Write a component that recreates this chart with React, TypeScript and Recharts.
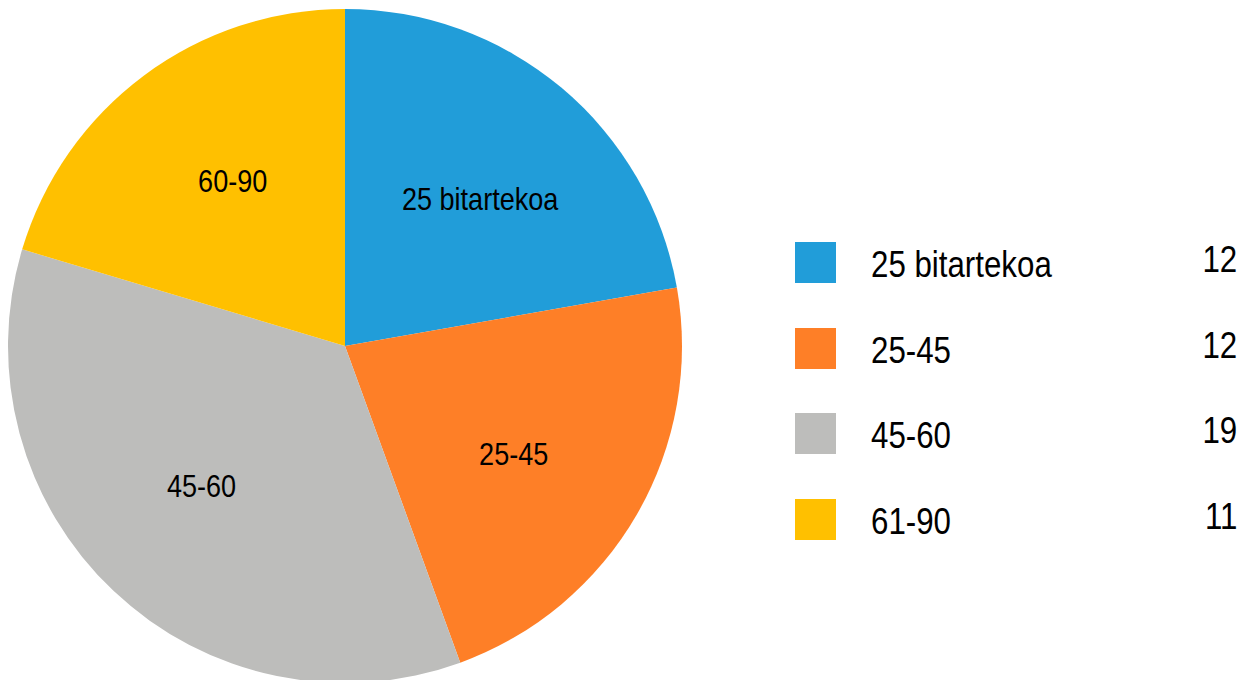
import React from 'react';
import { PieChart, Pie, Cell, Legend, PieLabelRenderProps } from 'recharts';

// data
const legendNames = ['25 bitartekoa', '25-45', '45-60', '61-90'];
const sliceLabels = ['25 bitartekoa', '25-45', '45-60', '60-90'];
const counts = [12, 12, 19, 11];
const colors = ['#219DD9', '#FE7F27', '#BDBDBB', '#FFC000'];

// no condensed Helvetica available: squeeze Liberation Sans horizontally
const FONT = '"Liberation Sans", Arial, sans-serif';
const SQUEEZE = 0.845;

const data = legendNames.map((name, i) => ({
  name,
  label: sliceLabels[i],
  value: counts[i],
}));

const RAD = Math.PI / 180;

const renderLabel = (props: PieLabelRenderProps) => {
  const { cx, cy, midAngle, index } = props;
  if (index === undefined || midAngle === undefined) return null;
  const r = 200;
  const a = midAngle - 2.5;
  const x = Number(cx) + r * Math.cos(-a * RAD);
  const y = Number(cy) + r * Math.sin(-a * RAD);
  return (
    <text
      transform={`translate(${x},${y}) scale(${SQUEEZE},1)`}
      fill="#000"
      textAnchor="middle"
      dominantBaseline="central"
      style={{ fontFamily: FONT, fontSize: 32 }}
    >
      {sliceLabels[index]}
    </text>
  );
};

const renderLegend = () => (
  <div style={{ fontFamily: FONT, width: 450 }}>
    {data.map((d, i) => (
      <div key={d.name} style={{ position: 'relative', height: 85.7 }}>
        <div style={{ width: 41, height: 41, background: colors[i] }} />
        <div
          style={{
            position: 'absolute',
            left: 76,
            top: 22,
            transform: `translateY(-50%) scaleX(${SQUEEZE})`,
            transformOrigin: 'left center',
            fontSize: 37,
            lineHeight: 1,
            color: '#000',
            whiteSpace: 'nowrap',
          }}
        >
          {d.name}
        </div>
        <div
          style={{
            position: 'absolute',
            right: 8,
            top: 17,
            transform: `translateY(-50%) scaleX(${SQUEEZE})`,
            transformOrigin: 'right center',
            fontSize: 37,
            lineHeight: 1,
            color: '#000',
          }}
        >
          {d.value}
        </div>
      </div>
    ))}
  </div>
);

export default function App() {
  return (
    <PieChart width={1250} height={680} margin={{ top: 0, right: 0, bottom: 0, left: 0 }}>
      <Pie
        data={data}
        dataKey="value"
        nameKey="name"
        cx={337}
        cy={338}
        outerRadius={337}
        startAngle={90}
        endAngle={-270}
        labelLine={false}
        label={renderLabel}
        stroke="none"
        isAnimationActive={false}
      >
        {data.map((entry, index) => (
          <Cell key={`cell-${index}`} fill={colors[index]} />
        ))}
      </Pie>
      <Legend
        content={renderLegend}
        wrapperStyle={{ position: 'absolute', left: 787, top: 234, width: 450 }}
      />
    </PieChart>
  );
}
